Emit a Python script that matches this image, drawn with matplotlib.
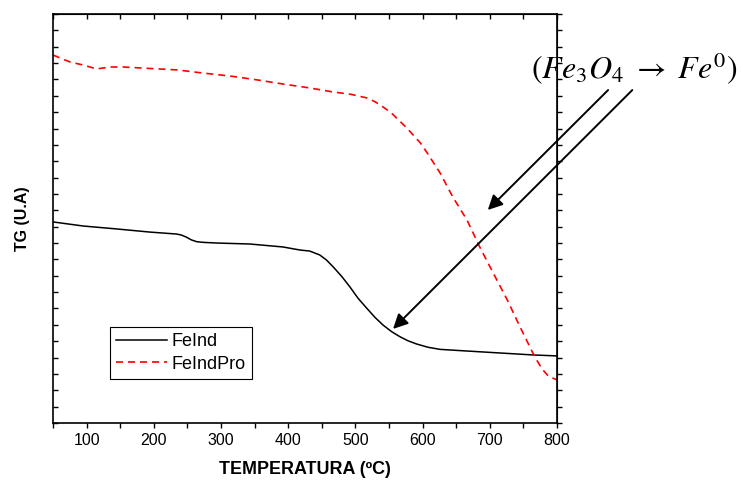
import matplotlib
matplotlib.use("Agg")
import matplotlib.pyplot as plt
import numpy as np

plt.rcParams['font.family'] = ['Liberation Sans', 'DejaVu Sans']
plt.rcParams['mathtext.fontset'] = 'stix'

# FeInd (black, solid)
feind_t = [50, 95, 145, 194, 234, 241, 249, 256, 264, 274, 294, 343, 392,
           418, 432, 447, 457, 467, 480, 492, 504, 517, 529, 541, 554, 566,
           578, 591, 608, 626, 666, 715, 764, 800]
feind_tg = [12.29, 12.04, 11.86, 11.67, 11.55, 11.49, 11.35, 11.19, 11.08,
            11.04, 11.00, 10.94, 10.76, 10.57, 10.51, 10.27, 9.96, 9.54, 8.94,
            8.31, 7.62, 7.01, 6.46, 5.99, 5.58, 5.28, 5.03, 4.83, 4.63, 4.50,
            4.40, 4.28, 4.16, 4.10]

# FeIndPro (red, dashed)
feindpro_t = [50, 75, 95, 115, 135, 154, 194, 235, 273, 313, 354, 392, 432,
              467, 492, 517, 529, 541, 554, 566, 576, 586, 597, 607, 626, 645,
              666, 685, 705, 726, 745, 764, 772, 779, 787, 800]
feindpro_tg = [22.49, 22.07, 21.88, 21.64, 21.76, 21.76, 21.67, 21.58, 21.39,
               21.21, 20.97, 20.72, 20.48, 20.23, 20.10, 19.87, 19.64, 19.32,
               18.93, 18.45, 18.05, 17.60, 17.10, 16.50, 15.28, 13.81, 12.41,
               10.76, 9.17, 7.52, 5.87, 4.28, 3.69, 3.24, 2.87, 2.63]

# annotation arrows: (start, tip) in data coords
arrow_starts = [(876, 20.35), (912, 20.35)]
arrow_tips = [(697, 13.02), (556, 5.75)]

fig = plt.figure(figsize=(7.43, 4.82), dpi=100)
ax = fig.add_axes([0.0713, 0.1224, 0.6784, 0.8486])

ax.plot(feind_t, feind_tg, color='black', lw=1.1, label='FeInd')
ax.plot(feindpro_t, feindpro_tg, color='red', lw=1.2, dashes=(4.2, 3.0),
        label='FeIndPro')

ax.set_xlim(50, 800)
ax.set_ylim(0, 25)
ax.set_xticks(np.arange(100, 801, 100))
ax.set_xticks(np.arange(50, 801, 100), minor=True)
ax.set_yticks(np.arange(0, 26, 1))
ax.set_yticklabels([])

ax.tick_params(axis='x', which='both', bottom=True, top=False, direction='out',
               length=3.8, width=1, labelsize=11.5)
ax.tick_params(axis='y', which='both', left=True, right=False, direction='in',
               length=3.6, width=1)
for s in ax.spines.values():
    s.set_linewidth(1.2)

# inward top ticks and outward right ticks
top = ax.secondary_xaxis('top')
top.set_xticks(np.arange(50, 801, 50))
top.set_xticklabels([])
top.tick_params(direction='in', length=3.8, width=1)
right = ax.secondary_yaxis('right')
right.set_yticks(np.arange(0, 26, 1))
right.set_yticklabels([])
right.tick_params(direction='out', length=3.6, width=1)

ax.set_xlabel('TEMPERATURA (ºC)', fontsize=12.9, fontweight='bold', labelpad=9)
ax.set_ylabel('TG (U.A)', fontsize=11.5, fontweight='bold', labelpad=13)

leg = ax.legend(loc='lower left', bbox_to_anchor=(0.113, 0.108),
                borderaxespad=0, fontsize=13, handlelength=2.8,
                fancybox=False, framealpha=1, edgecolor='black',
                borderpad=0.35, labelspacing=0.3, handletextpad=0.25)
leg.get_frame().set_linewidth(0.8)

for (sx, sy), (tx, ty) in zip(arrow_starts, arrow_tips):
    ax.annotate('', xy=(tx, ty), xytext=(sx, sy), annotation_clip=False,
                arrowprops=dict(arrowstyle='-|>', mutation_scale=22, lw=1.4,
                                color='black', shrinkA=0, shrinkB=0))

fig.text(0.853, 0.858, r'$(Fe_3O_4\ \rightarrow\ Fe^0)$', fontsize=23,
         ha='center', va='center')

fig.savefig('out.png', dpi=100)
